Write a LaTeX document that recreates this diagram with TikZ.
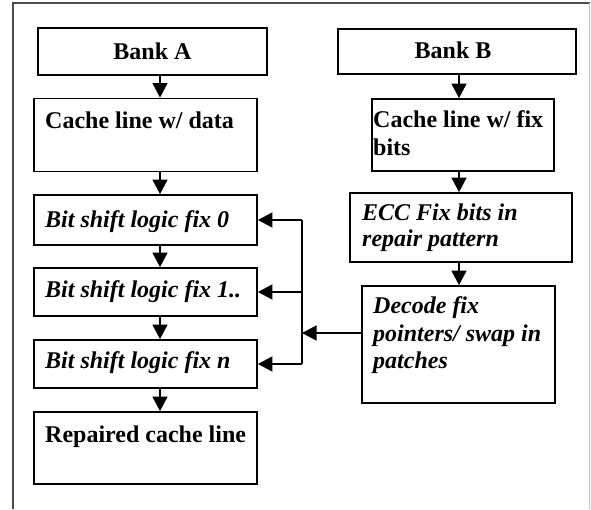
\documentclass[tikz,border=0pt]{standalone}
\usepackage{fontspec}
\setmainfont{Liberation Serif}
\usetikzlibrary{arrows.meta}
\begin{document}
\begin{tikzpicture}[x=1pt,y=-1pt,
  box/.style={draw=black,line width=1.8pt,rectangle,inner sep=0pt},
  lbl/.style={inner sep=0pt,anchor=base west,font=\fontsize{24}{28}\selectfont\bfseries},
  lblc/.style={lbl,anchor=base},
  ilbl/.style={lbl,font=\fontsize{24}{28}\selectfont\bfseries\itshape},
  conn/.style={draw=black,line width=1.4pt},
  arr/.style={conn,-{Triangle[length=14.5pt,width=15pt]}}]
\useasboundingbox (0,0) rectangle (591,509);

% outer frame
\draw[line width=1.3pt,black!70] (13,509) -- (13,3) -- (589.5,3);
\draw[line width=1.3pt,black!25] (589.5,3) -- (589.5,509);

% left column
\node[box,minimum width=229pt,minimum height=47pt] (bankA)  at (152.5,51.5) {};
\node[box,minimum width=223pt,minimum height=73pt] (cacheA) at (145.5,135) {};
\node[box,minimum width=223pt,minimum height=50pt] (fix0)   at (145.5,220) {};
\node[box,minimum width=223pt,minimum height=48pt] (fix1)   at (145.5,292) {};
\node[box,minimum width=223pt,minimum height=48pt] (fixn)   at (145.5,364) {};
\node[box,minimum width=223pt,minimum height=72pt] (rep)    at (145.5,448) {};

% right column
\node[box,minimum width=238pt,minimum height=45pt]  (bankB)  at (457,51.5) {};
\node[box,minimum width=182pt,minimum height=72pt]  (cacheB) at (463,135) {};
\node[box,minimum width=222pt,minimum height=69pt]  (ecc)    at (461,227.5) {};
\node[box,minimum width=193pt,minimum height=117pt] (decode) at (458.5,344.5) {};

% labels
\node[lblc] (tA)  at (152.5,59) {Bank A};
\node[lbl]  (tCA) at (45,128) {Cache line w/ data};
\node[ilbl] (tF0) at (45,227) {Bit shift logic fix 0};
\node[ilbl] (tF1) at (45,297) {Bit shift logic fix 1..};
\node[ilbl] (tFn) at (45,368) {Bit shift logic fix n};
\node[lbl]  (tR)  at (45,442) {Repaired cache line};

\node[lblc] (tB)   at (453,58) {Bank B};
\node[lbl]  (tCB1) at (373,127) {Cache line w/ fix};
\node[lbl]  (tCB2) at (373,155) {bits};
\node[ilbl] (tE1)  at (362,220) {ECC Fix bits in};
\node[ilbl] (tE2)  at (362,246) {repair pattern};
\node[ilbl] (tD1)  at (373,313) {Decode fix};
\node[ilbl] (tD2)  at (373,341) {pointers/ swap in};
\node[ilbl] (tD3)  at (373,368) {patches};

% column connectors
\coordinate (xA) at (160,0);
\coordinate (xB) at (459,0);
\draw[arr] (bankA.south -| xA)  -- (cacheA.north -| xA);
\draw[arr] (cacheA.south -| xA) -- (fix0.north -| xA);
\draw[arr] (fix0.south -| xA)   -- (fix1.north -| xA);
\draw[arr] (fix1.south -| xA)   -- (fixn.north -| xA);
\draw[arr] (fixn.south -| xA)   -- (rep.north -| xA);
\draw[arr] (bankB.south -| xB)  -- (cacheB.north -| xB);
\draw[arr] (cacheB.south -| xB) -- (ecc.north -| xB);
\draw[arr] (ecc.south -| xB)    -- (decode.north -| xB);

% fix-pointer bus feeding the shift stages
\coordinate (bus) at (302,0);
\coordinate (dy) at (0,333);
\draw[conn] (bus |- fix0.east) -- (bus |- fixn.east);
\draw[arr] (bus |- fix0.east) -- (fix0.east);
\draw[arr] (bus |- fix1.east) -- (fix1.east);
\draw[arr] (bus |- fixn.east) -- (fixn.east);
\draw[arr] (decode.west |- dy) -- (bus |- dy);
\end{tikzpicture}
\end{document}
